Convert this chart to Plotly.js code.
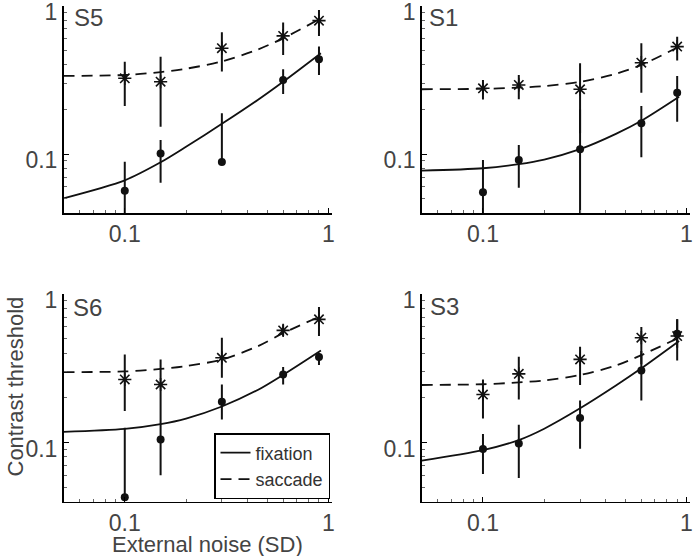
<!DOCTYPE html>
<html>
<head>
<meta charset="utf-8">
<script src="https://cdn.plot.ly/plotly-3.0.1.min.js"></script>
<style>html,body{margin:0;padding:0;background:#fff;}#chart{width:694px;height:556px;}</style>
</head>
<body>
<div id="chart"></div>
<script>
// ---- data ----
const subjects = ['S5', 'S1', 'S6', 'S3'];
const noiseLevels = [0.1, 0.15, 0.3, 0.6, 0.9];
const fitNoise = [0.05, 0.1, 0.15, 0.2, 0.3, 0.45, 0.6, 0.92];

const s5FixY  = [0.0566, 0.101, 0.0885, 0.317, 0.437];
const s5FixLo = [0.03, 0.0641, 0.086, 0.255, 0.342];
const s5FixHi = [0.0889, 0.1245, 0.189, 0.374, 0.532];
const s5SacY  = [0.325, 0.308, 0.519, 0.628, 0.796];
const s5SacLo = [0.211, 0.153, 0.361, 0.467, 0.628];
const s5SacHi = [0.421, 0.455, 0.665, 0.773, 0.94];
const s5FixFit = [0.0503, 0.0665, 0.088, 0.112, 0.16, 0.232, 0.308, 0.48];
const s5SacFit = [0.337, 0.342, 0.358, 0.377, 0.422, 0.508, 0.605, 0.827];

const s1FixY  = [0.0552, 0.0912, 0.108, 0.1615, 0.26];
const s1FixLo = [0.03, 0.0593, 0.03, 0.095, 0.1656];
const s1FixHi = [0.0912, 0.115, 0.2, 0.211, 0.337];
const s1SacY  = [0.278, 0.293, 0.274, 0.414, 0.532];
const s1SacLo = [0.234, 0.235, 0.138, 0.26, 0.428];
const s1SacHi = [0.317, 0.342, 0.411, 0.56, 0.621];
const s1FixFit = [0.0773, 0.0802, 0.0855, 0.0918, 0.108, 0.137, 0.168, 0.244];
const s1SacFit = [0.274, 0.276, 0.281, 0.288, 0.307, 0.349, 0.40, 0.532];

const s6FixY  = [0.0428, 0.1047, 0.188, 0.287, 0.377];
const s6FixLo = [0.0428, 0.0603, 0.143, 0.246, 0.333];
const s6FixHi = [0.126, 0.163, 0.246, 0.322, 0.402];
const s6SacY  = [0.266, 0.246, 0.372, 0.569, 0.675];
const s6SacLo = [0.163, 0.163, 0.273, 0.521, 0.521];
const s6SacHi = [0.392, 0.363, 0.508, 0.624, 0.818];
const s6FixFit = [0.118, 0.1235, 0.133, 0.145, 0.175, 0.226, 0.286, 0.417];
const s6SacFit = [0.298, 0.301, 0.313, 0.327, 0.362, 0.445, 0.545, 0.711];

const s3FixY  = [0.0906, 0.0984, 0.1465, 0.305, 0.541];
const s3FixLo = [0.0615, 0.0578, 0.091, 0.192, 0.357];
const s3FixHi = [0.1144, 0.132, 0.192, 0.413, 0.675];
const s3SacY  = [0.2106, 0.29, 0.363, 0.508, 0.521];
const s3SacLo = [0.145, 0.195, 0.244, 0.336, 0.434];
const s3SacHi = [0.266, 0.378, 0.4416, 0.60, 0.675];
const s3FixFit = [0.0756, 0.089, 0.104, 0.124, 0.17, 0.242, 0.316, 0.483];
const s3SacFit = [0.244, 0.247, 0.254, 0.262, 0.285, 0.33, 0.388, 0.508];

const xTickVals = [0.1, 1];
const xTickText = ['0.1', '1'];
const yTickVals = [0.1, 1];
const yTickText = ['0.1', '1'];
const xMinorVals = [0.05, 0.06, 0.07, 0.08, 0.09, 0.2, 0.3, 0.4, 0.5, 0.6, 0.7, 0.8, 0.9];
const yMinorVals = [0.04, 0.05, 0.06, 0.07, 0.08, 0.09, 0.2, 0.3, 0.4, 0.5, 0.6, 0.7, 0.8, 0.9];
const legendNames = ['fixation', 'saccade'];
const xTitle = 'External noise (SD)';
const yTitle = 'Contrast threshold';

// ---- build ----
const panels = [
  {fy: s5FixY, fl: s5FixLo, fh: s5FixHi, sy: s5SacY, sl: s5SacLo, sh: s5SacHi, ff: s5FixFit, sf: s5SacFit},
  {fy: s1FixY, fl: s1FixLo, fh: s1FixHi, sy: s1SacY, sl: s1SacLo, sh: s1SacHi, ff: s1FixFit, sf: s1SacFit},
  {fy: s6FixY, fl: s6FixLo, fh: s6FixHi, sy: s6SacY, sl: s6SacLo, sh: s6SacHi, ff: s6FixFit, sf: s6SacFit},
  {fy: s3FixY, fl: s3FixLo, fh: s3FixHi, sy: s3SacY, sl: s3SacLo, sh: s3SacHi, ff: s3FixFit, sf: s3SacFit}
];

function barSegments(xs, lo, hi) {
  const X = [], Y = [];
  xs.forEach((x, i) => { X.push(x, x, null); Y.push(lo[i], hi[i], null); });
  return {X, Y};
}

const traces = [];
panels.forEach((p, k) => {
  const xa = k === 0 ? 'x' : 'x' + (k + 1);
  const ya = k === 0 ? 'y' : 'y' + (k + 1);
  const fb = barSegments(noiseLevels, p.fl, p.fh);
  const sb = barSegments(noiseLevels, p.sl, p.sh);
  traces.push({x: fitNoise, y: p.ff, xaxis: xa, yaxis: ya, mode: 'lines', type: 'scatter',
    line: {color: '#111', width: 1.8, shape: 'spline', smoothing: 0.8}, name: legendNames[0],
    showlegend: k === 2, hoverinfo: 'skip'});
  traces.push({x: fitNoise, y: p.sf, xaxis: xa, yaxis: ya, mode: 'lines', type: 'scatter',
    line: {color: '#111', width: 1.8, shape: 'spline', smoothing: 0.8, dash: '11px,7px'}, name: legendNames[1],
    showlegend: k === 2, hoverinfo: 'skip'});
  traces.push({x: fb.X, y: fb.Y, xaxis: xa, yaxis: ya, mode: 'lines', type: 'scatter',
    line: {color: '#111', width: 2}, showlegend: false, hoverinfo: 'skip'});
  traces.push({x: sb.X, y: sb.Y, xaxis: xa, yaxis: ya, mode: 'lines', type: 'scatter',
    line: {color: '#111', width: 2}, showlegend: false, hoverinfo: 'skip'});
  traces.push({x: noiseLevels, y: p.fy, xaxis: xa, yaxis: ya, mode: 'markers', type: 'scatter',
    marker: {symbol: 'circle', size: 8, color: '#111'}, showlegend: false, cliponaxis: false});
  traces.push({x: noiseLevels, y: p.sy, xaxis: xa, yaxis: ya, mode: 'markers', type: 'scatter',
    marker: {symbol: 'asterisk-open', size: 11, color: '#111', line: {color: '#111', width: 1.6}},
    showlegend: false, cliponaxis: false});
});

const W = 694, H = 556;
const colX = [[63.5, 331.5], [421.7, 689.7]];
const rowY = [[6, 213], [294, 501.7]];
const tickFont = {family: 'Liberation Sans, Arial, sans-serif', size: 23, color: '#444'};

function xAxis(col, yref) {
  return {type: 'log', range: [Math.log10(0.05), Math.log10(1.037)],
    domain: [colX[col][0] / W, colX[col][1] / W], anchor: yref,
    showline: true, linecolor: '#000', linewidth: 1.5, mirror: false,
    ticks: 'inside', ticklen: 5, tickwidth: 1, tickcolor: '#000',
    tickmode: 'array', tickvals: xTickVals, ticktext: xTickText, tickfont: tickFont,
    ticklabeloverflow: 'allow',
    minor: {tickmode: 'array', tickvals: xMinorVals, ticks: 'inside', ticklen: 3, tickwidth: 1, tickcolor: '#666'},
    showgrid: false, zeroline: false, fixedrange: true};
}
function yAxis(row, xref) {
  return {type: 'log', range: [Math.log10(0.04), 0],
    domain: [1 - rowY[row][1] / H, 1 - rowY[row][0] / H], anchor: xref,
    showline: true, linecolor: '#000', linewidth: 1.5, mirror: false,
    ticks: 'inside', ticklen: 5, tickwidth: 1, tickcolor: '#000',
    tickmode: 'array', tickvals: yTickVals, ticktext: yTickText, tickfont: tickFont,
    ticklabeloverflow: 'allow', ticklabelshift: 6,
    minor: {tickmode: 'array', tickvals: yMinorVals, ticks: 'inside', ticklen: 3, tickwidth: 1, tickcolor: '#666'},
    showgrid: false, zeroline: false, fixedrange: true};
}

const labelPos = [[72, 17.5], [427, 17.5], [71, 307], [428, 306]];
const annotations = subjects.map((s, k) => ({
  text: s, xref: 'paper', yref: 'paper', x: labelPos[k][0] / W, y: 1 - labelPos[k][1] / H,
  xanchor: 'left', yanchor: 'middle', showarrow: false,
  font: {family: 'Liberation Sans, Arial, sans-serif', size: 24, color: '#444'}
}));
annotations.push({text: xTitle, xref: 'paper', yref: 'paper', x: 207.5 / W, y: 1 - 544 / H,
  xanchor: 'center', yanchor: 'middle', showarrow: false,
  font: {family: 'Liberation Sans, Arial, sans-serif', size: 22, color: '#444'}});
annotations.push({text: yTitle, xref: 'paper', yref: 'paper', x: 0, y: 1 - 387 / H,
  xanchor: 'left', yanchor: 'middle', showarrow: false, textangle: -90,
  font: {family: 'Liberation Sans, Arial, sans-serif', size: 22, color: '#444'}});

const layout = {
  width: W, height: H, margin: {l: 0, r: 0, t: 0, b: 0},
  paper_bgcolor: '#fff', plot_bgcolor: '#fff',
  xaxis: xAxis(0, 'y'), yaxis: yAxis(0, 'x'),
  xaxis2: xAxis(1, 'y2'), yaxis2: yAxis(0, 'x2'),
  xaxis3: xAxis(0, 'y3'), yaxis3: yAxis(1, 'x3'),
  xaxis4: xAxis(1, 'y4'), yaxis4: yAxis(1, 'x4'),
  showlegend: true,
  legend: {x: 214 / W, y: 1 - 433 / H, xanchor: 'left', yanchor: 'top',
    bgcolor: '#fff', bordercolor: '#000', borderwidth: 1.5,
    font: {family: 'Liberation Sans, Arial, sans-serif', size: 18, color: '#333'},
    tracegroupgap: 0},
  annotations: annotations
};

Plotly.newPlot('chart', traces, layout, {staticPlot: true, displayModeBar: false});
</script>
</body>
</html>
